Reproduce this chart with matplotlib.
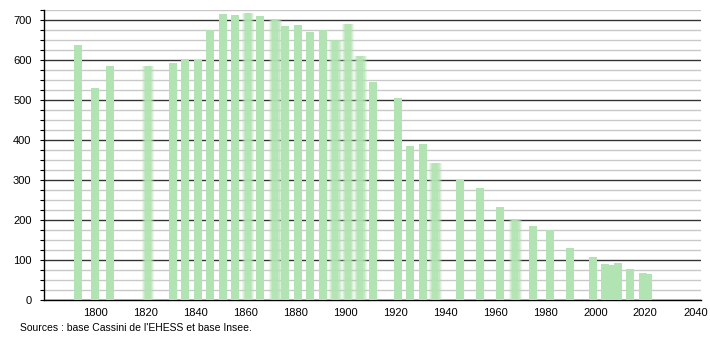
import numpy as np
import matplotlib.pyplot as plt
from matplotlib.ticker import MultipleLocator

plt.rcParams['font.family'] = ['Liberation Sans', 'DejaVu Sans']

years = [1793, 1800, 1806, 1821, 1831, 1836, 1841, 1846, 1851, 1856,
         1861, 1866, 1872, 1876, 1881, 1886, 1891, 1896, 1901, 1906,
         1911, 1921, 1926, 1931, 1936, 1946, 1954, 1962, 1968, 1975,
         1982, 1990, 1999, 2004, 2007, 2009, 2014, 2019, 2021]
population = [637, 530, 585, 585, 592, 602, 600, 675, 715, 712,
              718, 710, 702, 685, 687, 670, 674, 649, 690, 610,
              545, 505, 385, 390, 342, 300, 281, 232, 202, 185,
              175, 130, 107, 90, 87, 92, 77, 67, 64]
# years drawn with blurred edges in the original
fuzzy_years = [1821, 1861, 1872, 1896, 1901, 1906, 1936, 1968]
source = "Sources : base Cassini de l'EHESS et base Insee."

green = '#b2e3b2'
width = 3.2

fig = plt.figure(figsize=(7.1, 3.4), dpi=100)
ax = fig.add_axes([44 / 710, 40 / 340, 657 / 710, 290 / 340])

for y, p in zip(years, population):
    if y in fuzzy_years:
        for w, a in [(5.0, 0.25), (4.2, 0.35), (3.4, 0.5), (2.4, 0.8)]:
            ax.bar(y, p, width=w, color=green, alpha=a, linewidth=0, zorder=3)
    else:
        ax.bar(y, p, width=width, color=green, linewidth=0, zorder=3)

ax.set_xlim(1779.5, 2042.3)
ax.set_ylim(0, 725)

ax.yaxis.set_major_locator(MultipleLocator(100))
ax.yaxis.set_minor_locator(MultipleLocator(25))
ax.set_xticks(np.arange(1800, 2041, 20))

ax.grid(axis='y', which='minor', color='#c8c8c8', linewidth=1.0, zorder=1)
ax.grid(axis='y', which='major', color='#333333', linewidth=1.0, zorder=2)
ax.set_axisbelow(True)

for s in ['top', 'right']:
    ax.spines[s].set_visible(False)
ax.spines['left'].set_linewidth(1.0)
ax.spines['bottom'].set_linewidth(1.0)

ax.tick_params(axis='y', which='both', length=3, width=0.8, pad=6, labelsize=8)
ax.tick_params(axis='x', length=0, pad=6, labelsize=8)

fig.text(20 / 710, 1 - 328 / 340, source, fontsize=7.5, va='center', ha='left')

fig.savefig('out.png', dpi=100)
